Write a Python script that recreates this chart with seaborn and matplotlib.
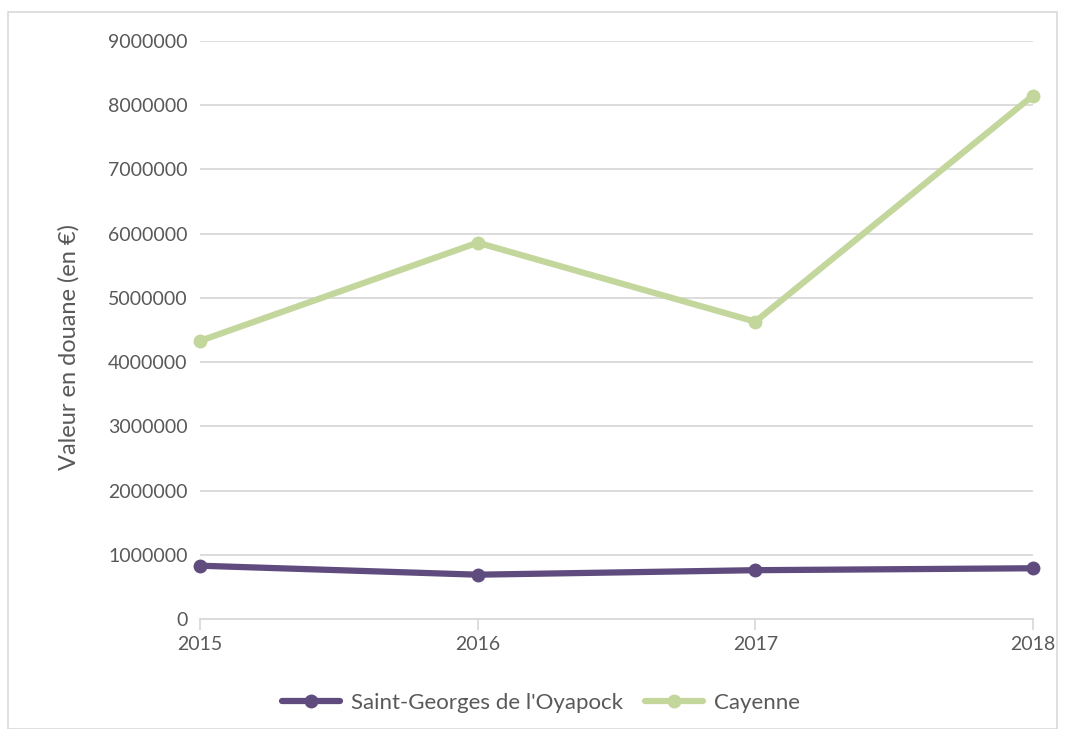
import matplotlib
matplotlib.use("Agg")
import matplotlib.pyplot as plt
import seaborn as sns
import pandas as pd
from matplotlib.ticker import FixedLocator
from matplotlib.lines import Line2D

years = [2015, 2016, 2017, 2018]
saint_georges = [830000, 690000, 760000, 790000]
cayenne = [4330000, 5860000, 4630000, 8150000]
series_names = ["Saint-Georges de l'Oyapock", "Cayenne"]
colors = ["#5F4B7E", "#C3D69B"]
yticks = list(range(0, 9000001, 1000000))

df = pd.DataFrame({
    "Année": years * 2,
    "Valeur": saint_georges + cayenne,
    "Série": [series_names[0]] * 4 + [series_names[1]] * 4,
})

sns.set_theme(style="white")
plt.rcParams["font.family"] = ["Lato", "DejaVu Sans"]

fig = plt.figure(figsize=(10.65, 7.29), dpi=100)
ax = fig.add_axes([200 / 1065, 1 - 619 / 729, (1033 - 200) / 1065, (619 - 41) / 729])

sns.lineplot(data=df, x="Année", y="Valeur", hue="Série", palette=colors,
             marker="o", markersize=10, markeredgewidth=0, linewidth=4.5,
             ax=ax, legend=False, clip_on=False, zorder=3)

ax.set_xlim(2015, 2018)
ax.set_ylim(0, 9000000)
ax.set_xticks(years)
ax.set_xticklabels([str(y) for y in years])
ax.yaxis.set_major_locator(FixedLocator(yticks))
ax.set_yticklabels([str(v) for v in yticks])
ax.grid(axis="y", color="#D9D9D9", linewidth=1.3)
ax.set_axisbelow(True)
for s in ["top", "right", "left"]:
    ax.spines[s].set_visible(False)
ax.spines["bottom"].set_color("#D9D9D9")
ax.spines["bottom"].set_linewidth(1.3)
ax.tick_params(axis="x", which="major", length=8, width=1.3, color="#D9D9D9",
               bottom=True, labelsize=14, labelcolor="#595959", pad=4)
ax.tick_params(axis="y", length=0, labelsize=14, labelcolor="#595959", pad=9)
ax.set_xlabel("")
ax.set_ylabel("Valeur en douane (en €)", fontsize=17, color="#595959")
ax.yaxis.set_label_coords(-0.145, 0.47)

handles = [Line2D([0], [0], color=c, lw=4.5, marker="o", markersize=10, markeredgewidth=0)
           for c in colors]
fig.legend(handles, series_names, loc="center", bbox_to_anchor=(0.508, 1 - 703 / 729),
           ncol=2, frameon=False, fontsize=16, labelcolor="#595959",
           handlelength=2.6, columnspacing=1.0, handletextpad=0.5)

border = plt.Rectangle((8 / 1065, 0), 1 - 16 / 1065, 1 - 12 / 729, transform=fig.transFigure,
                       fill=False, edgecolor="#D9D9D9", linewidth=1.2)
fig.patches.append(border)

fig.savefig("out.png", dpi=100)
